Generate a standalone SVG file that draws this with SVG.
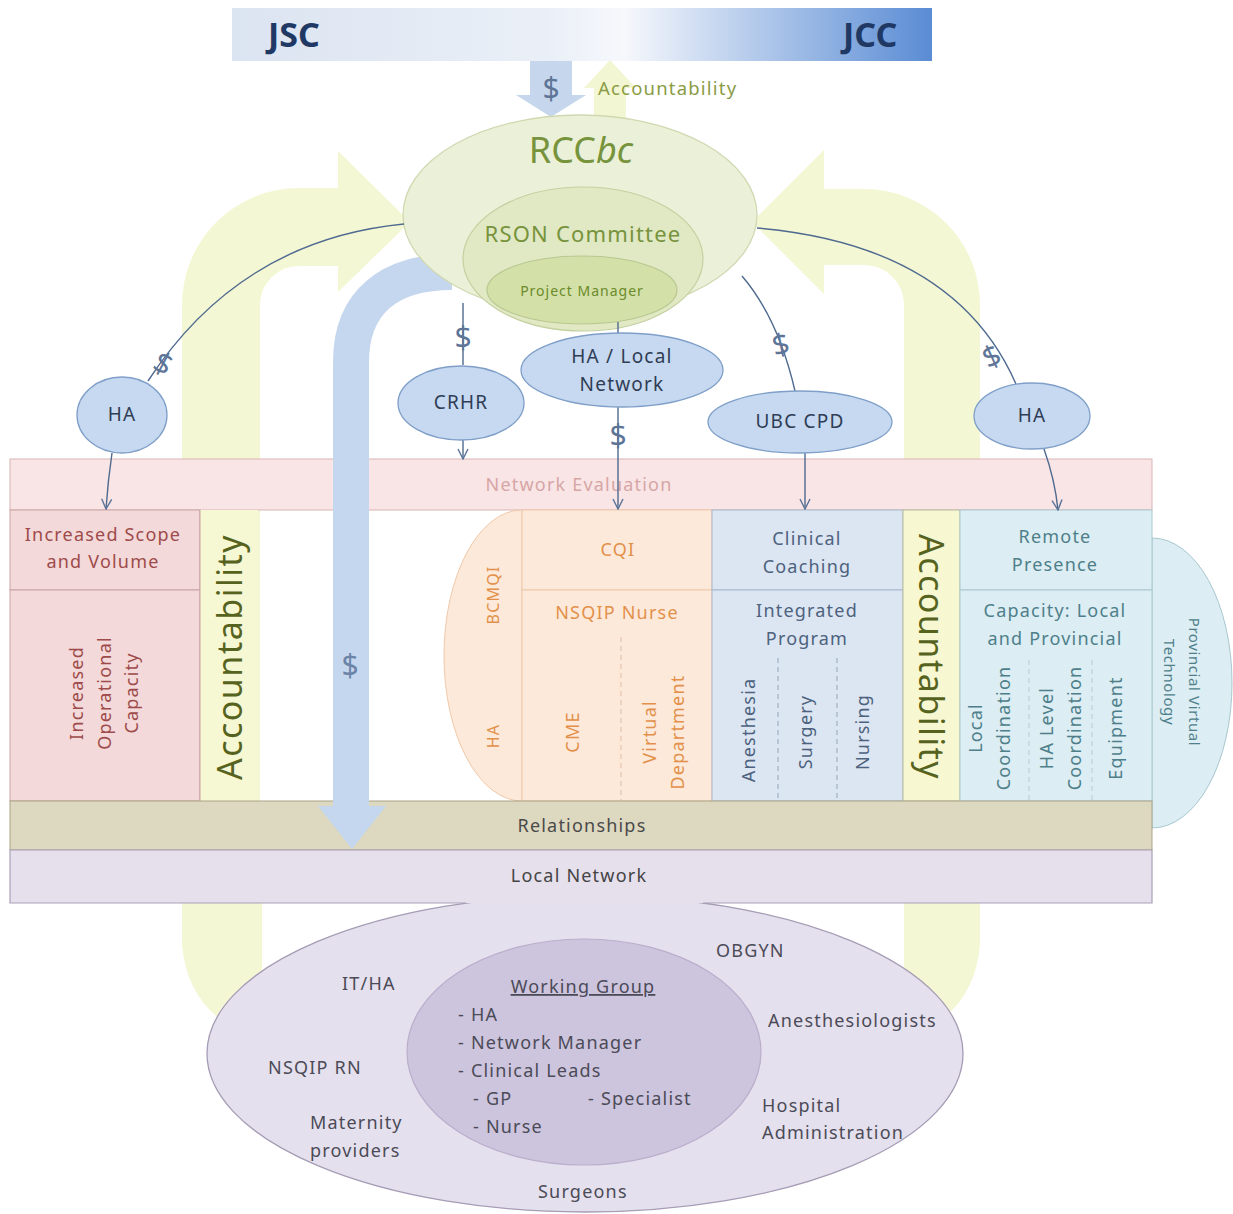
<svg xmlns="http://www.w3.org/2000/svg" width="1233" height="1214" viewBox="0 0 1233 1214">
<defs>
<linearGradient id="barG" x1="0" y1="0" x2="1" y2="0">
<stop offset="0" stop-color="#dbe4f1"/>
<stop offset="0.45" stop-color="#eaeff7"/>
<stop offset="0.56" stop-color="#f6f8fc"/>
<stop offset="1" stop-color="#5a8cd4"/>
</linearGradient>
<marker id="arr" viewBox="0 0 12 12" refX="11" refY="6" markerWidth="12" markerHeight="12" markerUnits="userSpaceOnUse" orient="auto">
<path d="M1,1 L11,6 L1,11" fill="none" stroke="#5a7399" stroke-width="1.4"/>
</marker>
<style>
text{font-family:"Noto Sans","Liberation Sans",sans-serif;font-size:18px;letter-spacing:1.2px}
.c{text-anchor:middle}
.v{text-anchor:middle;dominant-baseline:central}
.blue{fill:#c6d9f0;stroke:#7f9fc8;stroke-width:1.3}
.bt{fill:#2f3d55;font-size:19px}
.dol{font-size:30px;fill:#5e7597;letter-spacing:0}
.con{fill:none;stroke:#4f6a8f;stroke-width:1.4}
.yel{fill:none;stroke:#f4f7d4}
.red{fill:#f3d9d9;stroke:#c9a3a3}
.rt{fill:#9e4b4b}
.pch{fill:#fde9da;stroke:#efc9aa}
.pt{fill:#e3914a}
.bc{fill:#dce6f2;stroke:#a8b8cc}
.btx{fill:#4d627e}
.cy{fill:#dcedf3;stroke:#a9c7d0}
.ct{fill:#4e7f8a}
.acc{font-size:34px;letter-spacing:1.5px;fill:#56631e}
.gt{fill:#4b4b57}
.dash{stroke-dasharray:5,4;stroke-width:1.2;fill:none}
</style>
</defs>
<rect width="1233" height="1214" fill="#ffffff"/>

<!-- big yellow accountability arrows -->
<g id="yellow-arrows">
<path class="yel" stroke-width="78" d="M221,870 V305 A78,78 0 0 1 299,227 H342"/>
<polygon points="338,151 410,222 338,292" fill="#f4f7d4"/>
<path d="M182,860 V945 Q186,990 216,1016 L262,1000 V860 Z" fill="#f4f7d4"/>
<path class="yel" stroke-width="76" d="M942,870 V305 A78,78 0 0 0 864,227 H820"/>
<polygon points="824,150 752,222 824,294" fill="#f4f7d4"/>
<path d="M980,860 V945 Q976,990 946,1016 L904,1000 V860 Z" fill="#f4f7d4"/>
</g>

<!-- top bar -->
<g id="top-bar">
<rect x="232" y="8" width="700" height="53" fill="url(#barG)"/>
<text x="268" y="47" style="font-size:34px;font-weight:bold;fill:#1f3864;letter-spacing:0">JSC</text>
<text x="843" y="47" style="font-size:34px;font-weight:bold;fill:#1f3864;letter-spacing:0">JCC</text>
</g>
<g id="top-arrows">
<polygon points="610,60 636,88 626,88 626,125 594,125 594,88 584,88" fill="#f3f6d2"/>
<polygon points="530,61 572,61 572,95 586,95 551,117 516,95 530,95" fill="#c6d7ed"/>
<text x="551" y="99" class="c dol">$</text>
<text x="598" y="95" style="font-size:18.5px;fill:#8a9c45">Accountability</text>
</g>

<!-- layers -->
<g id="network-evaluation">
<rect x="10" y="459" width="1142" height="51" fill="#f9e5e5" stroke="#d9b3b3"/>
<text x="579" y="491" class="c" style="fill:#d6a6a6">Network Evaluation</text>
</g>
<g id="increased-scope">
<rect x="10" y="510" width="190" height="80" class="red"/>
<text x="103" y="541" class="c rt">Increased Scope</text>
<text x="103" y="568" class="c rt">and Volume</text>
</g>
<g id="increased-operational">
<rect x="10" y="590" width="190" height="211" class="red"/>
<g transform="translate(104,693) rotate(-90)">
<text x="0" y="-28" class="v rt">Increased</text>
<text x="0" y="0" class="v rt">Operational</text>
<text x="0" y="27" class="v rt">Capacity</text>
</g>
</g>
<g id="accountability-left">
<rect x="200" y="510" width="58" height="291" fill="#f6f8d4"/>
<line x1="200" y1="510" x2="200" y2="801" stroke="#c9a3a3"/>
<text transform="translate(229,657) rotate(-90)" class="v acc">Accountability</text>
</g>
<g id="bcmqi">
<path d="M522,510 A78,145.5 0 0 0 522,801 Z" class="pch"/>
<text transform="translate(493,595) rotate(-90)" class="v pt" style="font-size:16px">BCMQI</text>
<text transform="translate(493,736) rotate(-90)" class="v pt" style="font-size:16px">HA</text>
</g>
<g id="cqi">
<rect x="522" y="510" width="190" height="80" class="pch"/>
<text x="618" y="556" class="c pt">CQI</text>
</g>
<g id="nsqip-nurse">
<rect x="522" y="590" width="190" height="211" class="pch"/>
<text x="617" y="619" class="c pt">NSQIP Nurse</text>
<line x1="621" y1="637" x2="621" y2="801" class="dash" stroke="#e6c6ae"/>
<text transform="translate(572,732) rotate(-90)" class="v pt">CME</text>
<text transform="translate(663,732) rotate(-90)" class="v pt"><tspan x="0" dy="-14">Virtual</tspan><tspan x="0" dy="28">Department</tspan></text>
</g>
<g id="clinical-coaching">
<rect x="712" y="510" width="191" height="80" class="bc"/>
<text x="807" y="545" class="c btx">Clinical</text>
<text x="807" y="573" class="c btx">Coaching</text>
</g>
<g id="integrated-program">
<rect x="712" y="590" width="191" height="211" class="bc"/>
<text x="807" y="617" class="c btx">Integrated</text>
<text x="807" y="645" class="c btx">Program</text>
<line x1="778" y1="658" x2="778" y2="801" class="dash" stroke="#9fb0c6"/>
<line x1="837" y1="658" x2="837" y2="801" class="dash" stroke="#9fb0c6"/>
<text transform="translate(748,730) rotate(-90)" class="v btx">Anesthesia</text>
<text transform="translate(805,732) rotate(-90)" class="v btx">Surgery</text>
<text transform="translate(862,732) rotate(-90)" class="v btx">Nursing</text>
</g>
<g id="accountability-right">
<rect x="903" y="510" width="57" height="291" fill="#f7f8d2" stroke="#b8bca0"/>
<text transform="translate(932,657) rotate(90)" class="v acc">Accountability</text>
</g>
<g id="provincial-virtual-technology">
<path d="M1152,538 A80,145 0 0 1 1152,828 Z" class="cy"/>
<text transform="translate(1183,682) rotate(90)" class="v ct" style="font-size:15px;letter-spacing:0.6px"><tspan x="0" dy="-12">Provincial Virtual</tspan><tspan x="0" dy="25">Technology</tspan></text>
</g>
<g id="remote-presence">
<rect x="960" y="510" width="192" height="80" class="cy"/>
<text x="1055" y="543" class="c ct">Remote</text>
<text x="1055" y="571" class="c ct">Presence</text>
</g>
<g id="capacity">
<rect x="960" y="590" width="192" height="211" class="cy"/>
<text x="1055" y="617" class="c ct">Capacity: Local</text>
<text x="1055" y="645" class="c ct">and Provincial</text>
<line x1="1029" y1="660" x2="1029" y2="801" class="dash" stroke="#bcd3d9"/>
<line x1="1092" y1="660" x2="1092" y2="801" class="dash" stroke="#bcd3d9"/>
<text transform="translate(989,728) rotate(-90)" class="v ct"><tspan x="0" dy="-14">Local</tspan><tspan x="0" dy="28">Coordination</tspan></text>
<text transform="translate(1060,728) rotate(-90)" class="v ct"><tspan x="0" dy="-14">HA Level</tspan><tspan x="0" dy="28">Coordination</tspan></text>
<text transform="translate(1115,728) rotate(-90)" class="v ct">Equipment</text>
</g>
<g id="relationships">
<rect x="10" y="801" width="1142" height="49" fill="#ddd8c0" stroke="#a9a385"/>
<text x="582" y="832" class="c" style="fill:#4a4a4a">Relationships</text>
</g>

<!-- local network + callout ellipse -->
<g id="local-network">
<ellipse cx="585" cy="1053.5" rx="378" ry="158.5" fill="#e5e0ed" stroke="#a59cb5" stroke-width="1.3"/>
<rect x="10" y="850" width="1142" height="53" fill="#e6e0ed"/>
<path d="M466,903 H10 V850 H1152 V903 H703" fill="none" stroke="#aaa0b8" stroke-width="1.2"/>
<text x="579" y="882" class="c" style="fill:#444">Local Network</text>
<text x="342" y="990" class="gt">IT/HA</text>
<text x="268" y="1074" class="gt">NSQIP RN</text>
<text x="310" y="1129" class="gt">Maternity</text>
<text x="310" y="1157" class="gt">providers</text>
<text x="538" y="1198" class="gt">Surgeons</text>
<text x="716" y="957" class="gt">OBGYN</text>
<text x="768" y="1027" class="gt">Anesthesiologists</text>
<text x="762" y="1112" class="gt">Hospital</text>
<text x="762" y="1139" class="gt">Administration</text>
</g>
<g id="working-group">
<ellipse cx="584" cy="1052" rx="177" ry="113" fill="#cdc4de" stroke="#b9aecb" stroke-width="1.2"/>
<text x="583" y="993" class="c gt" style="text-decoration:underline">Working Group</text>
<text x="458" y="1021" class="gt">- HA</text>
<text x="458" y="1049" class="gt">- Network Manager</text>
<text x="458" y="1077" class="gt">- Clinical Leads</text>
<text x="473" y="1105" class="gt">- GP</text>
<text x="588" y="1105" class="gt">- Specialist</text>
<text x="473" y="1133" class="gt">- Nurse</text>
</g>

<!-- big blue funding arrow -->
<g id="funding-arrow">
<path d="M452,272 C392,272 351,300 351,362 V808" fill="none" stroke="#c5d7ee" stroke-width="36"/>
<polygon points="318,806 386,806 352,849" fill="#c5d7ee"/>
<text x="350" y="676" class="c dol" style="fill:#6b84a8">$</text>
</g>

<!-- RCCbc -->
<g id="rccbc">
<ellipse cx="580" cy="215" rx="177" ry="100" fill="#ebf0d8" stroke="#d0d8b0" stroke-width="1.3"/>
<text x="581" y="163" class="c" style="font-size:36px;fill:#77933c;letter-spacing:0">RCC<tspan font-style="italic">bc</tspan></text>
</g>
<g id="rson-committee">
<ellipse cx="583" cy="259" rx="120" ry="72" fill="#e0e8c4" stroke="#c4d0a0" stroke-width="1.2"/>
<text x="583" y="242" class="c" style="font-size:22px;fill:#77933c">RSON Committee</text>
</g>
<g id="project-manager">
<ellipse cx="582" cy="290" rx="95" ry="34" fill="#d3e0a8" stroke="#b8c890" stroke-width="1.2"/>
<text x="582" y="296" class="c" style="font-size:14px;letter-spacing:1px;fill:#6b8a2b">Project Manager</text>
</g>

<!-- connectors -->
<g id="connectors">
<path class="con" d="M404,224 Q240,240 148,381"/>
<path class="con" d="M112,453 Q108,480 106,509" marker-end="url(#arr)"/>
<path class="con" d="M463,303 V365"/>
<path class="con" d="M463,440 V459" marker-end="url(#arr)"/>
<path class="con" d="M618,322 V334"/>
<path class="con" d="M618,407 V509" marker-end="url(#arr)"/>
<path class="con" d="M742,276 Q778,318 795,391"/>
<path class="con" d="M805,453 V509" marker-end="url(#arr)"/>
<path class="con" d="M757,228 Q955,245 1016,384"/>
<path class="con" d="M1044,449 Q1055,480 1058,510" marker-end="url(#arr)"/>
<text x="0" y="0" transform="translate(158,373) rotate(28)" class="c dol">$</text>
<text x="463" y="348" class="c dol">$</text>
<text x="618" y="446" class="c dol">$</text>
<text x="0" y="0" transform="translate(783,355) rotate(-12)" class="c dol">$</text>
<text x="0" y="0" transform="translate(996,366) rotate(-25)" class="c dol">$</text>
</g>

<!-- small blue nodes -->
<g id="ha-left">
<ellipse cx="122" cy="415" rx="45" ry="38" class="blue"/>
<text x="122" y="421" class="c bt">HA</text>
</g>
<g id="crhr">
<ellipse cx="461" cy="403" rx="63" ry="37" class="blue"/>
<text x="461" y="409" class="c bt">CRHR</text>
</g>
<g id="ha-local-network">
<ellipse cx="622" cy="370" rx="101" ry="37" class="blue"/>
<text x="622" y="363" class="c bt">HA / Local</text>
<text x="622" y="391" class="c bt">Network</text>
</g>
<g id="ubc-cpd">
<ellipse cx="800" cy="422" rx="92" ry="31" class="blue"/>
<text x="800" y="428" class="c bt">UBC CPD</text>
</g>
<g id="ha-right">
<ellipse cx="1032" cy="416" rx="58" ry="33" class="blue"/>
<text x="1032" y="422" class="c bt">HA</text>
</g>
</svg>
